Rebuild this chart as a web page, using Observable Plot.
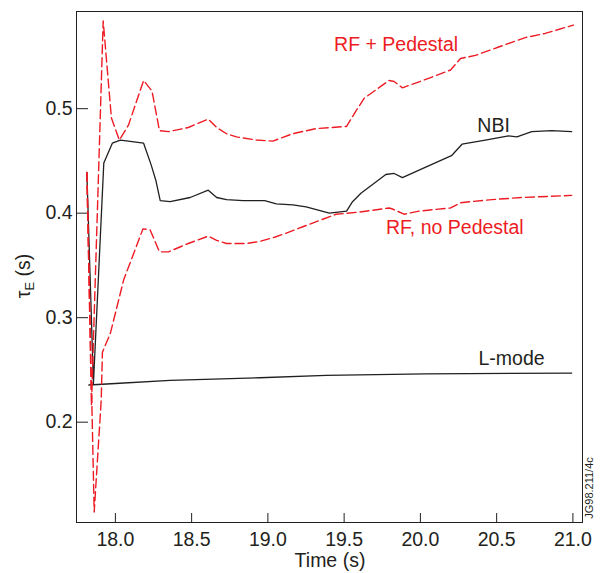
<!DOCTYPE html>
<html><head><meta charset="utf-8">
<script src="https://cdn.jsdelivr.net/npm/d3@7"></script>
<script src="https://cdn.jsdelivr.net/npm/@observablehq/plot@0.6"></script>
<style>body{margin:0;background:#fff}</style>
</head><body><div id="chart"></div>
<script>
// ---- data (time in s, confinement time tau_E in s) ----
const rfPedTime = [17.813,17.843,17.920,17.974,18.026,18.085,18.185,18.240,18.289,18.348,18.478,18.609,18.664,18.729,18.794,18.925,19.033,19.162,19.317,19.516,19.578,19.632,19.708,19.795,19.828,19.882,20.035,20.198,20.263,20.361,20.513,20.687,20.818,21.003];
const rfPedTau  = [0.439,0.216,0.584,0.491,0.470,0.484,0.527,0.517,0.479,0.478,0.482,0.490,0.482,0.476,0.473,0.470,0.469,0.476,0.481,0.483,0.498,0.510,0.518,0.527,0.526,0.520,0.528,0.537,0.548,0.551,0.559,0.568,0.572,0.580];

const nbiTime = [17.813,17.856,17.924,17.980,18.033,18.185,18.235,18.266,18.294,18.359,18.490,18.609,18.664,18.729,18.837,18.979,19.055,19.164,19.251,19.403,19.516,19.555,19.610,19.719,19.773,19.828,19.882,20.035,20.204,20.273,20.426,20.578,20.633,20.730,20.861,20.992];
const nbiTau  = [0.439,0.237,0.448,0.467,0.470,0.467,0.446,0.431,0.412,0.411,0.415,0.422,0.415,0.413,0.412,0.412,0.409,0.408,0.406,0.400,0.402,0.411,0.419,0.431,0.437,0.438,0.434,0.444,0.455,0.466,0.470,0.474,0.473,0.478,0.479,0.478];

const rfNoPedTime = [17.813,17.861,17.907,17.915,17.967,18.054,18.181,18.228,18.289,18.348,18.478,18.609,18.664,18.729,18.860,18.946,19.044,19.121,19.229,19.447,19.599,19.795,19.817,19.893,19.991,20.198,20.263,20.469,20.665,20.992];
const rfNoPedTau  = [0.439,0.114,0.221,0.267,0.285,0.336,0.385,0.384,0.363,0.363,0.371,0.378,0.374,0.371,0.371,0.373,0.377,0.381,0.387,0.399,0.401,0.405,0.404,0.399,0.402,0.405,0.410,0.413,0.415,0.417];

const lModeTime = [17.826,18.0,18.359,18.946,19.382,20.035,20.992];
const lModeTau  = [0.2356,0.237,0.240,0.2425,0.2447,0.2463,0.2469];

const xTicks = [18.0,18.5,19.0,19.5,20.0,20.5,21.0];
const yTicks = [0.2,0.3,0.4,0.5];

const labelText = ["RF + Pedestal","NBI","RF, no Pedestal","L-mode"];
const labelTime = [19.841,20.480,20.226,20.598];
const labelTau  = [0.5608,0.4839,0.3863,0.2611];
const labelKind = ["rf","nbi","rf","nbi"];

// ---- build ----
const RED = "#ed1c24", INK = "#231f20";
const toRows = (t, v) => t.map((d, i) => ({t: d, v: v[i]}));
const labels = labelText.map((s, i) => ({s, t: labelTime[i], v: labelTau[i], c: labelKind[i] === "rf" ? RED : INK}));

const plot = Plot.plot({
  width: 602, height: 573,
  marginLeft: 76, marginRight: 20, marginTop: 11, marginBottom: 51,
  style: {fontFamily: "'Liberation Sans', Arial, sans-serif", fontSize: "19.5px", color: INK, background: "#fff"},
  x: {domain: [17.745, 21.063], label: null},
  y: {domain: [0.104, 0.593], label: null},
  marks: [
    Plot.axisX({ticks: xTicks, tickFormat: d3.format(".1f"), tickSize: -9, tickPadding: 19, label: null}),
    Plot.axisY({ticks: yTicks, tickFormat: d3.format(".1f"), tickSize: -12, tickPadding: 16, label: null}),
    Plot.frame({stroke: INK, strokeWidth: 1}),
    Plot.line(toRows(lModeTime, lModeTau), {x: "t", y: "v", stroke: INK, strokeWidth: 1.3}),
    Plot.line(toRows(nbiTime, nbiTau), {x: "t", y: "v", stroke: INK, strokeWidth: 1.3}),
    Plot.line(toRows(rfNoPedTime, rfNoPedTau), {x: "t", y: "v", stroke: RED, strokeWidth: 1.4, strokeDasharray: "9,4"}),
    Plot.line(toRows(rfPedTime, rfPedTau), {x: "t", y: "v", stroke: RED, strokeWidth: 1.4, strokeDasharray: "9,4"}),
    Plot.text(labels, {x: "t", y: "v", text: "s", fill: "c", fontSize: 19.5, textAnchor: "middle", lineAnchor: "middle"})
  ]
});

const svg = d3.select(plot);
// y-axis title with subscript
const yl = svg.append("text")
  .attr("transform", "translate(30,276) rotate(-90)")
  .attr("text-anchor", "middle")
  .attr("fill", INK)
  .attr("font-size", "19.5px");
yl.append("tspan").text("τ");
yl.append("tspan").attr("font-size", "13px").attr("dy", "4").text("E");
yl.append("tspan").attr("dy", "-4").text(" (s)");
// x-axis title
svg.append("text")
  .attr("x", 330).attr("y", 567)
  .attr("text-anchor", "middle")
  .attr("fill", INK)
  .attr("font-size", "19.5px")
  .text("Time (s)");
// figure reference code
svg.append("text")
  .attr("transform", "translate(593,488) rotate(-90)")
  .attr("text-anchor", "middle")
  .attr("fill", INK)
  .attr("font-size", "11px")
  .text("JG98.211/4c");

document.getElementById("chart").appendChild(plot);
</script>
</body></html>
